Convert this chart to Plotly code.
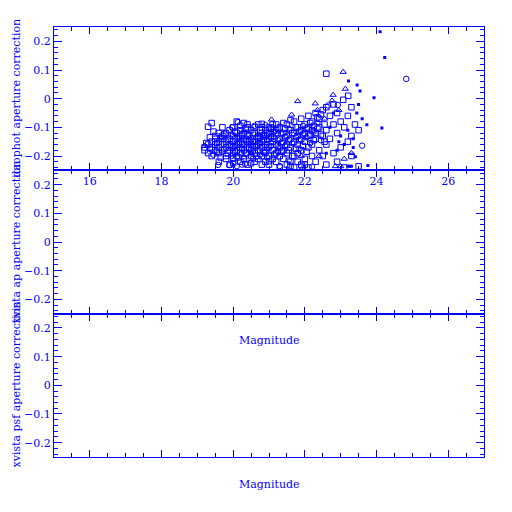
import plotly.graph_objects as go

BLUE = "#0000ff"
FONT = "DejaVu Serif"

x_ticks = [16, 18, 20, 22, 24, 26]
y_ticks = [-0.2, -0.1, 0, 0.1, 0.2]
y_ticktext = ["\u22120.2", "\u22120.1", "0", "0.1", "0.2"]

panel_titles = ["daophot aperture correction", "xvista ap aperture correction", "xvista psf aperture correction"]
x_title = "Magnitude"

# open squares
sq_x = [19.2, 19.2, 19.3, 19.3, 19.3, 19.4, 19.4, 19.4, 19.4, 19.5, 19.5, 19.5, 19.5,
        19.6, 19.6, 19.6, 19.6, 19.6, 19.7, 19.7, 19.7, 19.7, 19.7, 19.8, 19.8, 19.8, 19.8, 19.8,
        19.9, 19.9, 19.9, 19.9, 19.9, 20.0, 20.0, 20.0, 20.0, 20.0, 20.0,
        20.1, 20.1, 20.1, 20.1, 20.1, 20.1, 20.2, 20.2, 20.2, 20.2, 20.2, 20.2,
        20.3, 20.3, 20.3, 20.3, 20.3, 20.3, 20.4, 20.4, 20.4, 20.4, 20.4, 20.4,
        20.5, 20.5, 20.5, 20.5, 20.5, 20.6, 20.6, 20.6, 20.6, 20.6, 20.6,
        20.7, 20.7, 20.7, 20.7, 20.7, 20.7, 20.8, 20.8, 20.8, 20.8, 20.8, 20.8,
        20.9, 20.9, 20.9, 20.9, 20.9, 20.9, 21.0, 21.0, 21.0, 21.0, 21.0, 21.0,
        21.1, 21.1, 21.1, 21.1, 21.1, 21.2, 21.2, 21.2, 21.2, 21.2,
        21.3, 21.3, 21.3, 21.3, 21.3, 21.4, 21.4, 21.4, 21.4,
        21.5, 21.5, 21.5, 21.5, 21.5, 21.6, 21.6, 21.6, 21.6,
        21.7, 21.7, 21.7, 21.7, 21.7, 21.8, 21.8, 21.8, 21.8, 21.8,
        21.9, 21.9, 21.9, 21.9, 21.9, 22.0, 22.0, 22.0, 22.0,
        22.1, 22.1, 22.1, 22.1, 22.1, 22.2, 22.2, 22.2, 22.2,
        22.3, 22.3, 22.3, 22.3, 22.4, 22.4, 22.4, 22.5, 22.5, 22.5,
        22.6, 22.6, 22.6, 22.6, 22.6, 22.7, 22.7, 22.8, 22.8, 22.8,
        22.9, 22.9, 22.9, 23.0, 23.0, 23.07, 23.1, 23.1, 23.21, 23.2, 23.2,
        23.3, 23.3, 23.3, 23.4, 23.5, 23.5]
sq_y = [-0.17, -0.18, -0.16, -0.19, -0.098, -0.15, -0.17, -0.20, -0.085, -0.14, -0.16, -0.18, -0.13,
        -0.12, -0.15, -0.17, -0.19, -0.22, -0.13, -0.16, -0.18, -0.14, -0.10, -0.12, -0.15, -0.17, -0.20, -0.21,
        -0.11, -0.14, -0.16, -0.18, -0.23, -0.10, -0.13, -0.15, -0.17, -0.19, -0.21,
        -0.12, -0.14, -0.16, -0.18, -0.20, -0.08, -0.11, -0.13, -0.15, -0.17, -0.19, -0.22,
        -0.12, -0.14, -0.16, -0.18, -0.21, -0.085, -0.10, -0.13, -0.15, -0.17, -0.19, -0.23,
        -0.11, -0.14, -0.16, -0.18, -0.20, -0.10, -0.12, -0.15, -0.17, -0.19, -0.22,
        -0.09, -0.13, -0.14, -0.16, -0.18, -0.21, -0.10, -0.12, -0.15, -0.17, -0.20, -0.23,
        -0.11, -0.13, -0.16, -0.18, -0.19, -0.22, -0.10, -0.12, -0.14, -0.17, -0.20, -0.23,
        -0.09, -0.13, -0.15, -0.18, -0.21, -0.11, -0.12, -0.16, -0.19, -0.22,
        -0.10, -0.14, -0.17, -0.20, -0.24, -0.12, -0.15, -0.18, -0.21,
        -0.09, -0.13, -0.16, -0.19, -0.23, -0.11, -0.14, -0.17, -0.22,
        -0.08, -0.12, -0.15, -0.20, -0.24, -0.10, -0.13, -0.16, -0.19, -0.22,
        -0.07, -0.11, -0.14, -0.18, -0.23, -0.09, -0.12, -0.15, -0.21,
        -0.06, -0.10, -0.13, -0.17, -0.24, -0.08, -0.11, -0.16, -0.20,
        -0.05, -0.12, -0.14, -0.22, -0.07, -0.10, -0.18, -0.04, -0.13, -0.20,
        0.087, -0.03, -0.11, -0.16, -0.23, -0.06, -0.14, -0.02, -0.09, -0.19,
        -0.05, -0.12, -0.22, -0.08, -0.17, -0.004, -0.10, -0.24, 0.010, -0.06, -0.15,
        -0.03, -0.13, -0.20, -0.09, -0.11, -0.236]

# more open squares filling the dense cloud
sq2_x = [19.25, 19.35, 19.45, 19.55, 19.65, 19.75, 19.85, 19.95, 20.05, 20.05, 20.15, 20.15,
         20.25, 20.25, 20.35, 20.35, 20.45, 20.45, 20.55, 20.55, 20.65, 20.65, 20.75, 20.75,
         20.85, 20.85, 20.95, 20.95, 21.05, 21.05, 21.15, 21.15, 21.25, 21.25, 21.35, 21.35,
         21.45, 21.45, 21.55, 21.55, 21.65, 21.65, 21.75, 21.75, 21.85, 21.85, 21.95, 21.95,
         22.05, 22.05, 22.15, 22.15, 22.25, 22.25, 22.35, 22.35, 22.45, 22.45, 22.55, 22.55,
         20.0, 20.5, 21.0, 21.6, 22.0, 20.2, 20.4, 20.8, 21.2, 21.4, 21.6]
sq2_y = [-0.155, -0.135, -0.115, -0.185, -0.205, -0.125, -0.19, -0.165, -0.115, -0.185, -0.155, -0.205,
         -0.125, -0.16, -0.105, -0.19, -0.145, -0.175, -0.12, -0.15, -0.165, -0.20, -0.11, -0.135,
         -0.145, -0.185, -0.12, -0.17, -0.105, -0.135, -0.14, -0.195, -0.105, -0.165, -0.155, -0.185,
         -0.105, -0.135, -0.145, -0.18, -0.12, -0.20, -0.10, -0.175, -0.115, -0.145, -0.125, -0.165,
         -0.105, -0.185, -0.085, -0.125, -0.095, -0.145, -0.065, -0.105, -0.125, -0.055, -0.09, -0.15,
         -0.225, -0.225, -0.218, -0.235, -0.23, -0.095, -0.09, -0.088, -0.09, -0.085, -0.075]

# open circles
ci_x = [19.35, 19.45, 19.55, 19.65, 19.75, 19.85, 19.95, 19.95, 20.05, 20.15, 20.25, 20.25,
        20.35, 20.45, 20.55, 20.55, 20.65, 20.75, 20.75, 20.85, 20.95, 20.95, 21.05, 21.15,
        21.25, 21.25, 21.35, 21.45, 21.55, 21.55, 21.65, 21.75, 21.85, 21.95, 22.05, 22.15,
        22.25, 22.35, 22.45, 20.1, 19.9, 21.3, 21.9, 22.2, 20.6, 20.9, 21.1, 19.58, 20.33,
        19.97, 20.13, 22.65, 22.92, 23.6, 24.83]
ci_y = [-0.175, -0.195, -0.155, -0.135, -0.175, -0.145, -0.125, -0.20, -0.165, -0.135, -0.175, -0.23,
        -0.145, -0.125, -0.165, -0.21, -0.135, -0.155, -0.195, -0.125, -0.145, -0.205, -0.165, -0.115,
        -0.145, -0.185, -0.125, -0.165, -0.105, -0.215, -0.155, -0.135, -0.175, -0.095, -0.135, -0.155,
        -0.115, -0.085, -0.145, -0.235, -0.232, -0.235, -0.236, -0.237, -0.095, -0.092, -0.10, -0.231, -0.227,
        -0.10, -0.082, -0.024, -0.022, -0.164, 0.069]

# open triangles
tr_x = [21.07, 21.8, 22.29, 23.07, 22.79, 23.13, 22.76, 21.63, 22.35, 22.55, 22.95, 23.3,
        23.1, 22.4, 21.9, 20.5, 19.2, 20.3, 22.85, 23.0]
tr_y = [-0.073, -0.009, -0.017, 0.093, 0.013, 0.034, -0.007, -0.056, -0.04, -0.07, -0.04, -0.19,
        -0.21, -0.20, -0.20, -0.19, -0.165, -0.205, -0.236, -0.236]

# small filled points
dt_x = [24.10, 24.23, 23.22, 23.46, 23.54, 23.93, 24.15, 23.76, 23.73, 23.41, 23.3, 23.2,
        23.25, 23.35, 23.45, 23.5, 23.6, 23.2, 23.0, 22.9, 23.35, 22.8, 23.1, 22.7, 22.6, 22.95]
dt_y = [0.233, 0.144, 0.062, 0.048, 0.027, 0.003, -0.102, -0.233, -0.091, -0.203, -0.236, -0.236,
        -0.236, -0.14, -0.05, -0.02, -0.07, -0.11, -0.13, -0.18, -0.17, -0.05, -0.16, -0.10, -0.19, -0.15]

fig = go.Figure()
line = dict(color=BLUE, width=1)
fig.add_trace(go.Scatter(x=sq_x, y=sq_y, mode="markers", xaxis="x3", yaxis="y3",
                         marker=dict(symbol="square-open", size=5.5, color=BLUE, line=line)))
fig.add_trace(go.Scatter(x=sq2_x, y=sq2_y, mode="markers", xaxis="x3", yaxis="y3",
                         marker=dict(symbol="square-open", size=5.5, color=BLUE, line=line)))
fig.add_trace(go.Scatter(x=ci_x, y=ci_y, mode="markers", xaxis="x3", yaxis="y3",
                         marker=dict(symbol="circle-open", size=5.5, color=BLUE, line=line)))
fig.add_trace(go.Scatter(x=tr_x, y=tr_y, mode="markers", xaxis="x3", yaxis="y3",
                         marker=dict(symbol="triangle-up-open", size=5.5, color=BLUE, line=line)))
fig.add_trace(go.Scatter(x=dt_x, y=dt_y, mode="markers", xaxis="x3", yaxis="y3",
                         marker=dict(symbol="square", size=3, color=BLUE, line=dict(width=0))))
fig.add_trace(go.Scatter(x=[], y=[], mode="markers", xaxis="x2", yaxis="y2"))
fig.add_trace(go.Scatter(x=[], y=[], mode="markers", xaxis="x", yaxis="y"))

tickfont = dict(family=FONT, size=11, color=BLUE)
def xax(anchor, show_labels):
    return dict(range=[15, 27], domain=[0, 1], anchor=anchor,
                showline=True, linecolor=BLUE, linewidth=1, mirror="allticks",
                ticks="inside", ticklen=7, tickcolor=BLUE, tickwidth=1,
                tickvals=x_ticks, showticklabels=show_labels, tickfont=tickfont,
                minor=dict(ticks="inside", ticklen=4, dtick=0.5, tickcolor=BLUE, tickwidth=1),
                showgrid=False, zeroline=False, fixedrange=True, automargin=False)
def yax(domain, anchor):
    return dict(range=[-0.25, 0.25], domain=domain, anchor=anchor,
                showline=True, linecolor=BLUE, linewidth=1, mirror="allticks",
                ticks="inside", ticklen=8, tickcolor=BLUE, tickwidth=1,
                tickvals=y_ticks, ticktext=y_ticktext, tickfont=tickfont,
                minor=dict(ticks="inside", ticklen=4, dtick=0.02, tick0=0, tickcolor=BLUE, tickwidth=1),
                showgrid=False, zeroline=False, fixedrange=True, automargin=False)

third = 1 / 3
fig.update_layout(
    width=504, height=504,
    margin=dict(l=46, r=28, t=19, b=55, autoexpand=False),
    paper_bgcolor="white", plot_bgcolor="white",
    showlegend=False,
    xaxis=xax("y", False), yaxis=yax([0, third], "x"),
    xaxis2=xax("y2", False), yaxis2=yax([third, 2 * third], "x2"),
    xaxis3=xax("y3", True), yaxis3=yax([2 * third, 1], "x3"),
)

# pixel positions in the 512 page (plot area 54..484 x, 27..457 y)
anns = []
for ypix in [341, 484]:
    anns.append(dict(text=x_title, x=0.5, y=(457 - ypix) / 430, xref="paper", yref="paper",
                     xanchor="center", yanchor="middle",
                     showarrow=False, font=dict(family=FONT, size=11, color=BLUE)))
for t, ypix in zip(panel_titles, [98, 242, 385]):
    anns.append(dict(text=t, x=(15.5 - 54) / 430, y=(457 - ypix) / 430, xref="paper", yref="paper",
                     xanchor="center", yanchor="middle", borderpad=0,
                     textangle=-90, showarrow=False, font=dict(family=FONT, size=11, color=BLUE)))
fig.update_layout(annotations=anns)

fig.write_html("out.html")
